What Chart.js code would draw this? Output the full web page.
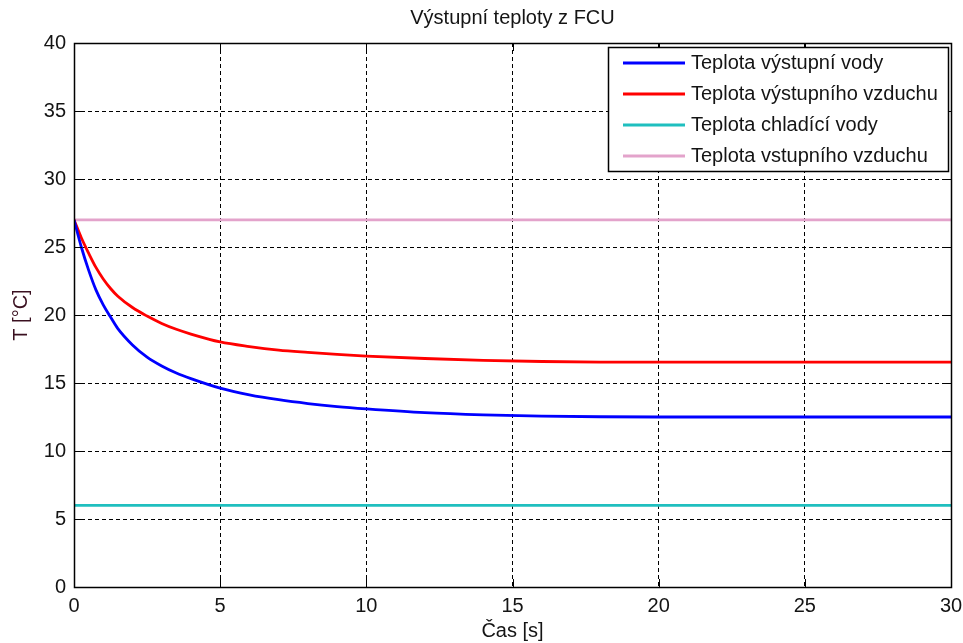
<!DOCTYPE html>
<html>
<head>
<meta charset="utf-8">
<script src="https://cdn.jsdelivr.net/npm/chart.js@4/dist/chart.umd.min.js"></script>
<style>
  html, body { margin: 0; padding: 0; background: #fff; }
  #wrap { width: 963px; height: 643px; }
</style>
</head>
<body>
<div id="wrap"><canvas id="tempChart" width="963" height="643"></canvas></div>
<script>
// time axis samples [s]
const times = [0, 0.25, 0.5, 0.75, 1, 1.25, 1.5, 2, 2.5, 3, 3.5, 4, 5, 6, 7, 8, 9, 10, 12, 14, 16, 18, 20, 25, 30];

// outlet water temperature [°C]
const waterOut = [27, 25.0, 23.3, 21.85, 20.75, 19.85, 19.0, 17.8, 16.9, 16.25, 15.73, 15.32, 14.62, 14.13, 13.77, 13.49, 13.27, 13.1, 12.82, 12.66, 12.57, 12.52, 12.5, 12.5, 12.5];
// outlet air temperature [°C]
const airOut = [27, 25.68, 24.55, 23.5, 22.65, 21.95, 21.38, 20.55, 19.92, 19.38, 18.95, 18.6, 18.02, 17.68, 17.42, 17.25, 17.1, 16.98, 16.8, 16.66, 16.58, 16.54, 16.53, 16.53, 16.53];
// constant inputs
const coolingWater = 6;
const inletAir = 27;

const seriesLabels = ['Teplota výstupní vody', 'Teplota výstupního vzduchu', 'Teplota chladící vody', 'Teplota vstupního vzduchu'];
const seriesColors = ['#0000ff', '#ff0000', '#1fbfbf', '#e3a3cb'];

const xTicks = [0, 5, 10, 15, 20, 25, 30];
const yTicks = [0, 5, 10, 15, 20, 25, 30, 35, 40];

const FONT = '"Liberation Sans", Arial, sans-serif';
const TEXT = '#141414';

function toPoints(xs, ys) {
    return xs.map((x, i) => ({ x: x, y: ys[i] }));
}

// box, inward tick marks and the legend in the upper right corner
const matlabFrame = {
    id: 'matlabFrame',
    afterDraw(chart) {
        const ctx = chart.ctx;
        const a = chart.chartArea;
        const xs = chart.scales.x;
        const ys = chart.scales.y;

        ctx.save();
        ctx.strokeStyle = '#000';
        ctx.lineWidth = 1;
        ctx.setLineDash([]);

        // tick marks pointing inwards
        ctx.beginPath();
        xTicks.forEach(v => {
            const px = Math.round(xs.getPixelForValue(v)) + 0.5;
            ctx.moveTo(px, a.bottom); ctx.lineTo(px, a.bottom - 8);
            ctx.moveTo(px, a.top); ctx.lineTo(px, a.top + 8);
        });
        yTicks.forEach(v => {
            const py = Math.round(ys.getPixelForValue(v)) + 0.5;
            ctx.moveTo(a.left, py); ctx.lineTo(a.left + 8, py);
            ctx.moveTo(a.right, py); ctx.lineTo(a.right - 8, py);
        });
        ctx.stroke();

        // axes box
        ctx.lineWidth = 1.5;
        ctx.strokeRect(Math.round(a.left) + 0.5, Math.round(a.top) + 0.5,
                       Math.round(a.right - a.left), Math.round(a.bottom - a.top));

        // legend
        const lx = 608, ly = 47, lw = 340, lh = 124;
        ctx.fillStyle = '#fff';
        ctx.fillRect(lx, ly, lw, lh);
        ctx.lineWidth = 1.5;
        ctx.strokeRect(lx + 0.5, ly + 0.5, lw, lh);

        ctx.font = '20px ' + FONT;
        ctx.textBaseline = 'middle';
        ctx.textAlign = 'left';
        chart.data.datasets.forEach((ds, i) => {
            const rowY = ly + 16 + i * 31;
            ctx.strokeStyle = ds.borderColor;
            ctx.lineWidth = 3;
            ctx.beginPath();
            ctx.moveTo(lx + 15, rowY);
            ctx.lineTo(lx + 77, rowY);
            ctx.stroke();
            ctx.fillStyle = TEXT;
            ctx.fillText(ds.label, lx + 83, rowY);
        });
        ctx.restore();
    }
};

const ctx = document.getElementById('tempChart').getContext('2d');

const tempChart = new Chart(ctx, {
    type: 'line',
    data: {
        datasets: [
            {
                label: seriesLabels[0],
                data: toPoints(times, waterOut),
                borderColor: seriesColors[0],
                cubicInterpolationMode: 'monotone',
            },
            {
                label: seriesLabels[1],
                data: toPoints(times, airOut),
                borderColor: seriesColors[1],
                cubicInterpolationMode: 'monotone',
            },
            {
                label: seriesLabels[2],
                data: toPoints([0, 30], [coolingWater, coolingWater]),
                borderColor: seriesColors[2],
            },
            {
                label: seriesLabels[3],
                data: toPoints([0, 30], [inletAir, inletAir]),
                borderColor: seriesColors[3],
            },
        ],
    },
    plugins: [matlabFrame],
    options: {
        responsive: false,
        animation: false,
        layout: {
            padding: { top: 5, right: 12, left: 0, bottom: 0 },
        },
        elements: {
            line: { borderWidth: 2.8, fill: false },
            point: { radius: 0 },
        },
        scales: {
            x: {
                type: 'linear',
                min: 0,
                max: 30,
                afterFit(scale) {
                    scale.height = 56;
                    scale.paddingLeft = 0;
                    scale.paddingRight = 0;
                },
                afterBuildTicks(scale) { scale.ticks = xTicks.map(v => ({ value: v })); },
                ticks: {
                    color: TEXT,
                    font: { family: FONT, size: 20 },
                    padding: 7,
                    maxRotation: 0,
                },
                grid: { color: '#000', lineWidth: 1, drawTicks: false },
                border: { display: false, dash: [4, 3] },
                title: {
                    display: true,
                    text: 'Čas [s]',
                    color: TEXT,
                    font: { family: FONT, size: 20 },
                    padding: { top: 0, bottom: 0 },
                },
            },
            y: {
                min: 0,
                max: 40,
                afterFit(scale) {
                    scale.width = 74;
                    scale.paddingTop = 0;
                    scale.paddingBottom = 0;
                },
                afterBuildTicks(scale) { scale.ticks = yTicks.map(v => ({ value: v })); },
                ticks: {
                    color: TEXT,
                    font: { family: FONT, size: 20 },
                    padding: 8,
                },
                grid: { color: '#000', lineWidth: 1, drawTicks: false },
                border: { display: false, dash: [4, 3] },
                title: {
                    display: true,
                    text: 'T [°C]',
                    color: '#3a1020',
                    font: { family: FONT, size: 20 },
                    padding: 9,
                },
            },
        },
        plugins: {
            legend: { display: false },
            tooltip: { enabled: false },
            title: {
                display: true,
                fullSize: false,
                text: 'Výstupní teploty z FCU',
                color: TEXT,
                font: { family: FONT, size: 20, weight: 'normal' },
                padding: { top: 1, bottom: 13 },
            },
        },
    },
});
</script>
</body>
</html>
